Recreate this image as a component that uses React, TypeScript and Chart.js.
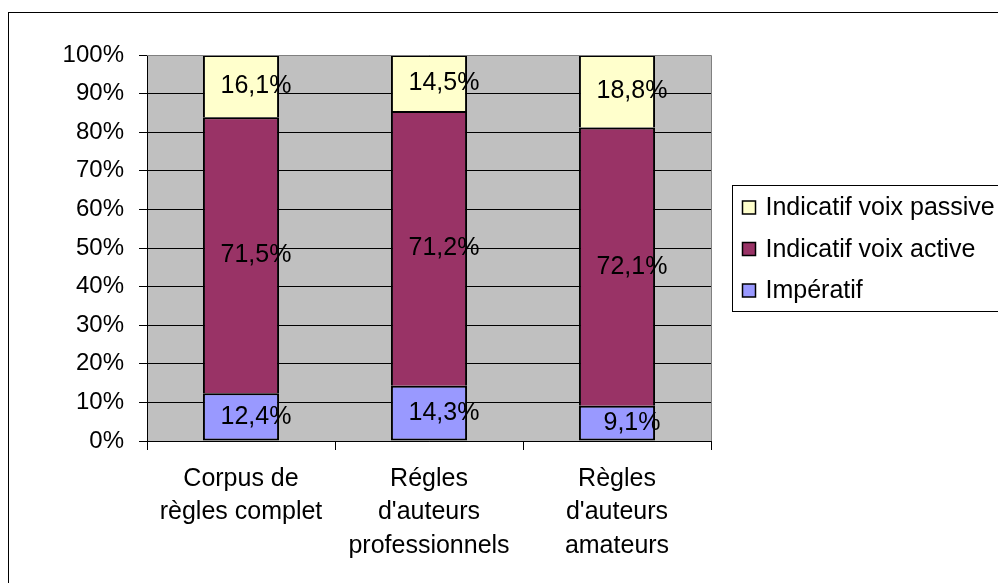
import React, { useEffect, useRef } from "react";
import { Chart, registerables } from "chart.js";

Chart.register(...registerables);

const categories: string[][] = [
  ["Corpus de", "règles complet"],
  ["Régles", "d'auteurs", "professionnels"],
  ["Règles", "d'auteurs", "amateurs"],
];
const seriesNames = ["Impératif", "Indicatif voix active", "Indicatif voix passive"];
const imperatif = [12.4, 14.3, 9.1];
const voixActive = [71.5, 71.2, 72.1];
const voixPassive = [16.1, 14.5, 18.8];
const seriesColors = ["#9999FF", "#993366", "#FFFFCC"];
const yTicks = [0, 10, 20, 30, 40, 50, 60, 70, 80, 90, 100];

const FONT = "'Liberation Sans', Arial, sans-serif";

const bgPlugin = {
  id: "bgPlugin",
  beforeDraw(chart: any) {
    const { ctx, chartArea: a } = chart;
    ctx.save();
    ctx.fillStyle = "#FFFFFF";
    ctx.fillRect(0, 0, chart.width, chart.height);
    ctx.strokeStyle = "#000000";
    ctx.lineWidth = 1;
    ctx.strokeRect(8.5, 12.5, 1400, 1000);
    ctx.fillStyle = "#C0C0C0";
    ctx.fillRect(a.left, a.top, a.right - a.left, a.bottom - a.top);
    ctx.restore();
  },
  afterDatasetsDraw(chart: any) {
    const { ctx, chartArea: a } = chart;
    ctx.save();
    ctx.strokeStyle = "#808080";
    ctx.lineWidth = 1;
    ctx.beginPath();
    ctx.moveTo(a.left, a.top + 0.5);
    ctx.lineTo(a.right + 0.5, a.top + 0.5);
    ctx.lineTo(a.right + 0.5, a.bottom);
    ctx.stroke();
    ctx.restore();
  },
};

const labelPlugin = {
  id: "labelPlugin",
  afterDatasetsDraw(chart: any) {
    const { ctx } = chart;
    ctx.save();
    ctx.fillStyle = "#000000";
    ctx.font = `25px ${FONT}`;
    ctx.textAlign = "center";
    ctx.textBaseline = "middle";
    chart.data.datasets.forEach((ds: any, i: number) => {
      const meta = chart.getDatasetMeta(i);
      meta.data.forEach((el: any, j: number) => {
        const v = ds.data[j] as number;
        const txt = v.toFixed(1).replace(".", ",") + "%";
        ctx.fillText(txt, el.x + 15, (el.y + el.base) / 2);
      });
    });
    ctx.restore();
  },
};

const legendPlugin = {
  id: "legendPlugin",
  afterDraw(chart: any) {
    const { ctx, chartArea: a } = chart;
    const left = a.right + 21.5;
    const h = 126;
    const top = Math.round((a.top + a.bottom) / 2 - h / 2) + 0.5;
    ctx.save();
    ctx.fillStyle = "#FFFFFF";
    ctx.fillRect(left, top, 400, h);
    ctx.strokeStyle = "#000000";
    ctx.lineWidth = 1;
    ctx.strokeRect(left, top, 400, h);
    ctx.font = `25px ${FONT}`;
    ctx.textBaseline = "middle";
    ctx.textAlign = "left";
    const ds = [...chart.data.datasets].reverse();
    ds.forEach((d: any, i: number) => {
      const cy = top + 22 + i * 41.5;
      ctx.fillStyle = d.backgroundColor;
      ctx.fillRect(left + 10, cy - 6.5, 13, 13);
      ctx.lineWidth = 1.5;
      ctx.strokeStyle = "#000000";
      ctx.strokeRect(left + 10, cy - 6.5, 13, 13);
      ctx.fillStyle = "#000000";
      ctx.fillText(d.label, left + 33, cy + 1);
    });
    ctx.restore();
  },
};

export default function App() {
  const ref = useRef<HTMLCanvasElement | null>(null);

  useEffect(() => {
    if (!ref.current) return;
    const series = [imperatif, voixActive, voixPassive];
    const chart = new Chart(ref.current, {
      type: "bar",
      data: {
        labels: categories as any,
        datasets: series.map((d, i) => ({
          label: seriesNames[i],
          data: d,
          backgroundColor: seriesColors[i],
          borderColor: "#000000",
          borderWidth: { top: 2, left: 2, right: 2, bottom: i === 0 ? 2 : 0 },
          borderSkipped: false,
          categoryPercentage: 1,
          barPercentage: 0.405,
        })),
      },
      options: {
        responsive: false,
        animation: false,
        devicePixelRatio: 1,
        layout: { padding: { left: 0, top: 55, right: 287, bottom: 0 } },
        plugins: {
          legend: { display: false },
          tooltip: { enabled: false },
        },
        scales: {
          x: {
            stacked: true,
            offset: true,
            grid: {
              offset: true,
              drawOnChartArea: false,
              tickLength: 9,
              color: "#000000",
              tickColor: "#000000",
            },
            border: { color: "#000000", width: 1 },
            ticks: {
              color: "#000000",
              font: { family: FONT, size: 25, lineHeight: 1.34 },
              padding: 12,
              maxRotation: 0,
              autoSkip: false,
            },
            afterFit(scale: any) {
              scale.height = 142;
            },
          },
          y: {
            stacked: true,
            min: 0,
            max: 100,
            afterBuildTicks(scale: any) {
              scale.ticks = yTicks.map((v) => ({ value: v }));
            },
            grid: {
              color: (c: any) => (c.tick && c.tick.value === 100 ? "#808080" : "#000000"),
              tickColor: "#000000",
              tickLength: 8,
              lineWidth: 1,
            },
            border: { color: "#000000", width: 1 },
            ticks: {
              color: "#000000",
              font: { family: FONT, size: 24 },
              padding: 15,
              callback: (v: any) => `${v}%`,
            },
            afterFit(scale: any) {
              scale.width = 147;
            },
          },
        },
      },
      plugins: [bgPlugin, labelPlugin, legendPlugin],
    });
    return () => chart.destroy();
  }, []);

  return (
    <div style={{ position: "absolute", left: 0, top: 0, width: 998, height: 583 }}>
      <canvas ref={ref} width={998} height={583} style={{ display: "block" }} />
    </div>
  );
}
